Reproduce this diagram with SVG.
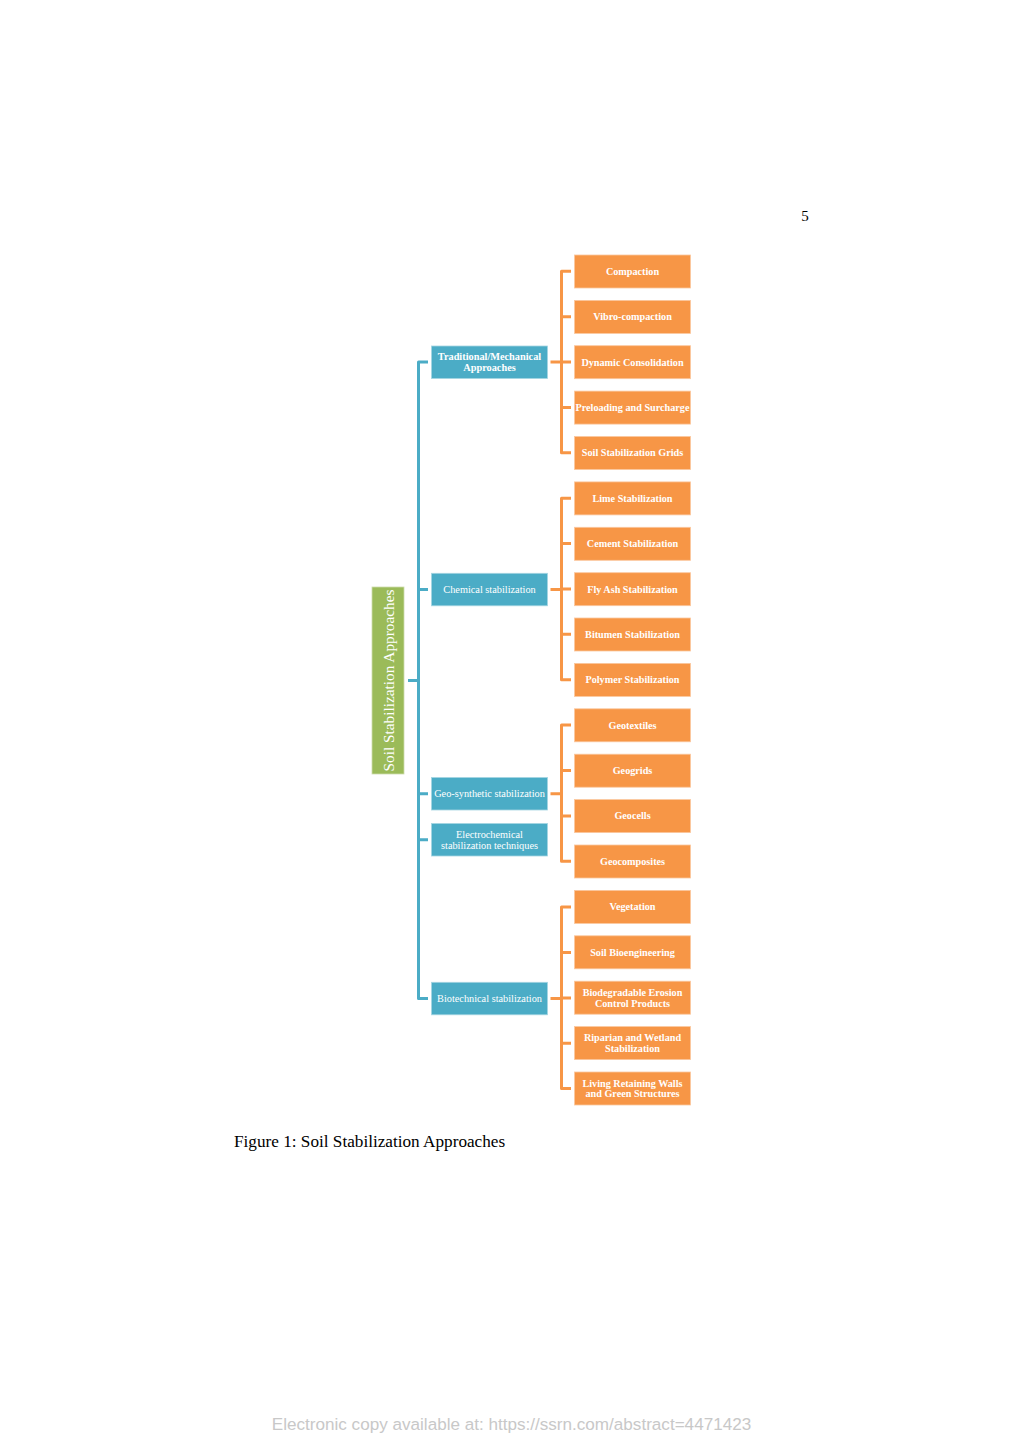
<svg xmlns="http://www.w3.org/2000/svg" width="1023" height="1448" viewBox="0 0 1023 1448">
<style>
.o{fill:#F79646;stroke:#FBC79E;stroke-width:0.8}
.b{fill:#4BACC6;stroke:#A5D5E2;stroke-width:0.8}
.g{fill:#9BBB59;stroke:#CDDDAC;stroke-width:0.8}
.ot{font-family:"Liberation Serif",serif;font-weight:bold;font-size:10.2px;fill:#fff;text-anchor:middle}
.bt{font-family:"Liberation Serif",serif;font-size:10.3px;fill:#fff;text-anchor:middle}
.bt2{font-family:"Liberation Serif",serif;font-weight:bold;font-size:10.3px;fill:#fff;text-anchor:middle}
.cb{fill:none;stroke:#4BACC6;stroke-width:3;stroke-linejoin:round}
.co{fill:none;stroke:#F79646;stroke-width:3;stroke-linejoin:round}
</style>
<rect width="1023" height="1448" fill="#fff"/>
<text x="805" y="221" font-family="Liberation Serif,serif" font-size="15" text-anchor="middle" fill="#000">5</text>

<g id="connectors">
<path class="cb" d="M408,680.5H418.5 M428,362H418.5V998.5H428 M418.5,589.5H428 M418.5,793.7H428 M418.5,839.7H428"/>
<path class="co" d="M550.5,362H561.5 M571,271.3H561.5V452.8H571 M561.5,316.7H571 M561.5,362H571 M561.5,407.4H571"/>
<path class="co" d="M550.5,589.5H561.5 M571,498.2H561.5V679.7H571 M561.5,543.6H571 M561.5,589H571 M561.5,634.3H571"/>
<path class="co" d="M550.5,793.7H561.5 M571,725H561.5V861.3H571 M561.5,770.5H571 M561.5,816H571"/>
<path class="co" d="M550.5,998.5H561.5 M571,907H561.5V1088.6H571 M561.5,952.5H571 M561.5,998H571 M561.5,1043.2H571"/>
</g>

<g id="root"><rect class="g" x="372" y="587" width="32" height="187"/>
<text transform="translate(393.5,680.5) rotate(-90)" font-family="Liberation Serif,serif" font-size="15.3" fill="#fff" text-anchor="middle">Soil Stabilization Approaches</text></g>

<g id="n-trad"><rect class="b" x="431.5" y="346" width="116" height="32.5"/>
<text class="bt2" x="489.5" y="360">Traditional/Mechanical</text><text class="bt2" x="489.5" y="371">Approaches</text></g>
<g id="n-chem"><rect class="b" x="431.5" y="573.3" width="116" height="32.5"/>
<text class="bt" x="489.5" y="593">Chemical stabilization</text></g>
<g id="n-geo"><rect class="b" x="431.5" y="777.5" width="116" height="32.5"/>
<text class="bt" x="489.5" y="797.2">Geo-synthetic stabilization</text></g>
<g id="n-elec"><rect class="b" x="431.5" y="823.5" width="116" height="32.5"/>
<text class="bt" x="489.5" y="837.5">Electrochemical</text><text class="bt" x="489.5" y="848.5">stabilization techniques</text></g>
<g id="n-bio"><rect class="b" x="431.5" y="982.3" width="116" height="32.5"/>
<text class="bt" x="489.5" y="1002">Biotechnical stabilization</text></g>

<g id="c1"><rect class="o" x="574.5" y="255" width="116" height="33"/><text class="ot" x="632.5" y="274.8">Compaction</text></g>
<g id="c2"><rect class="o" x="574.5" y="300.4" width="116" height="33"/><text class="ot" x="632.5" y="320.2">Vibro-compaction</text></g>
<g id="c3"><rect class="o" x="574.5" y="345.7" width="116" height="33"/><text class="ot" x="632.5" y="365.5">Dynamic Consolidation</text></g>
<g id="c4"><rect class="o" x="574.5" y="391.1" width="116" height="33"/><text class="ot" x="632.5" y="410.9">Preloading and Surcharge</text></g>
<g id="c5"><rect class="o" x="574.5" y="436.5" width="116" height="33"/><text class="ot" x="632.5" y="456.3">Soil Stabilization Grids</text></g>

<g id="c6"><rect class="o" x="574.5" y="481.9" width="116" height="33"/><text class="ot" x="632.5" y="501.7">Lime Stabilization</text></g>
<g id="c7"><rect class="o" x="574.5" y="527.3" width="116" height="33"/><text class="ot" x="632.5" y="547.1">Cement Stabilization</text></g>
<g id="c8"><rect class="o" x="574.5" y="572.7" width="116" height="33"/><text class="ot" x="632.5" y="592.5">Fly Ash Stabilization</text></g>
<g id="c9"><rect class="o" x="574.5" y="618" width="116" height="33"/><text class="ot" x="632.5" y="637.8">Bitumen Stabilization</text></g>
<g id="c10"><rect class="o" x="574.5" y="663.4" width="116" height="33"/><text class="ot" x="632.5" y="683.2">Polymer Stabilization</text></g>

<g id="c11"><rect class="o" x="574.5" y="708.8" width="116" height="33"/><text class="ot" x="632.5" y="728.6">Geotextiles</text></g>
<g id="c12"><rect class="o" x="574.5" y="754.2" width="116" height="33"/><text class="ot" x="632.5" y="774">Geogrids</text></g>
<g id="c13"><rect class="o" x="574.5" y="799.6" width="116" height="33"/><text class="ot" x="632.5" y="819.4">Geocells</text></g>
<g id="c14"><rect class="o" x="574.5" y="845" width="116" height="33"/><text class="ot" x="632.5" y="864.8">Geocomposites</text></g>

<g id="c15"><rect class="o" x="574.5" y="890.4" width="116" height="33"/><text class="ot" x="632.5" y="910.2">Vegetation</text></g>
<g id="c16"><rect class="o" x="574.5" y="935.8" width="116" height="33"/><text class="ot" x="632.5" y="955.6">Soil Bioengineering</text></g>
<g id="c17"><rect class="o" x="574.5" y="981.2" width="116" height="33"/><text class="ot" x="632.5" y="996">Biodegradable Erosion</text><text class="ot" x="632.5" y="1006.6">Control Products</text></g>
<g id="c18"><rect class="o" x="574.5" y="1026.6" width="116" height="33"/><text class="ot" x="632.5" y="1041.4">Riparian and Wetland</text><text class="ot" x="632.5" y="1052">Stabilization</text></g>
<g id="c19"><rect class="o" x="574.5" y="1072" width="116" height="33"/><text class="ot" x="632.5" y="1086.8">Living Retaining Walls</text><text class="ot" x="632.5" y="1097.4">and Green Structures</text></g>

<text x="234" y="1146.5" font-family="Liberation Serif,serif" font-size="17.2" fill="#000">Figure 1: Soil Stabilization Approaches</text>
<text x="511.5" y="1430" font-family="Liberation Sans,sans-serif" font-size="17.1" fill="#c8c8c8" text-anchor="middle">Electronic copy available at: https://ssrn.com/abstract=4471423</text>
</svg>
